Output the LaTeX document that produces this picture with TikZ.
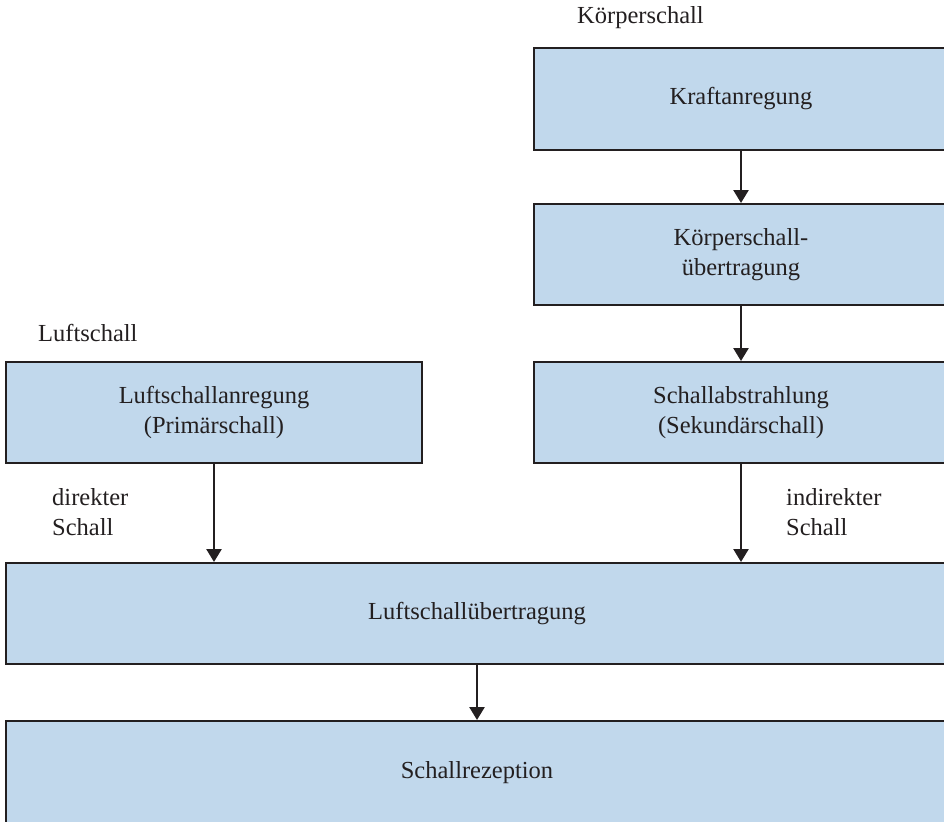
\documentclass[tikz,border=0pt]{standalone}
\usepackage{fontspec}
\setmainfont{Liberation Serif}
\usetikzlibrary{arrows.meta}
\definecolor{boxfill}{RGB}{193,216,236}
\definecolor{ink}{RGB}{35,31,32}
\begin{document}
\begin{tikzpicture}[x=1pt,y=-1pt,
  box/.style={draw=ink,line width=2pt,fill=boxfill,inner sep=0pt,align=center,
    font=\fontsize{24.5}{30}\selectfont,text=ink},
  lbl/.style={inner sep=0pt,align=left,font=\fontsize{24.5}{30}\selectfont,text=ink},
  conn/.style={draw=ink,line width=2.6pt,-{Triangle[length=13pt,width=15pt]}}]
\useasboundingbox (0,0) rectangle (944,821);
\clip (0,0) rectangle (944,821);
\node[box,minimum width=414pt,minimum height=102pt] (k1) at (741,99) {Kraftanregung};
\node[box,minimum width=414pt,minimum height=101pt] (k2) at (741,254.5) {Körperschall-\\übertragung};
\node[box,minimum width=414pt,minimum height=101pt] (k3) at (741,412.5) {Schallabstrahlung\\(Sekundärschall)};
\node[box,minimum width=416pt,minimum height=101pt] (l1) at (214,412.5) {Luftschallanregung\\(Primärschall)};
\node[box,minimum width=942pt,minimum height=101pt] (lu) at (477,613.5) {Luftschallübertragung};
\node[box,minimum width=942pt,minimum height=104pt] (sr) at (477,773) {Schallrezeption};
\node[lbl,anchor=west] (tk) at (577,18) {Körperschall};
\node[lbl,anchor=west] (tl) at (38,333) {Luftschall};
\node[lbl,anchor=west] (td) at (52,512) {direkter\\Schall};
\node[lbl,anchor=west] (ti) at (786,512) {indirekter\\Schall};
\draw[conn] (k1) -- (k2);
\draw[conn] (k2) -- (k3);
\draw[conn] (k3) -- (k3.south |- lu.north);
\draw[conn] (l1) -- (l1.south |- lu.north);
\draw[conn] (lu) -- (sr);
\end{tikzpicture}
\end{document}
